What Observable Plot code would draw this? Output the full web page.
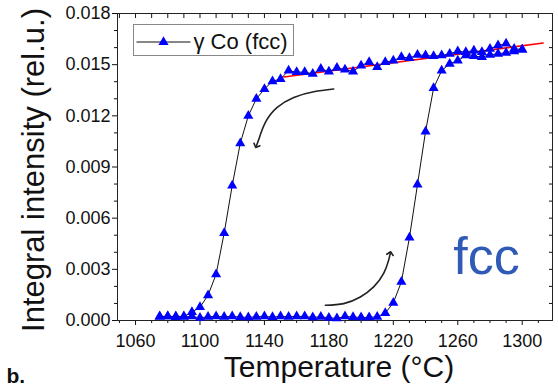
<!DOCTYPE html>
<html>
<head>
<meta charset="utf-8">
<script src="https://cdn.jsdelivr.net/npm/d3@7"></script>
<script src="https://cdn.jsdelivr.net/npm/@observablehq/plot@0.6"></script>
<style>
  html, body { margin: 0; padding: 0; background: #ffffff; }
  #chart svg { display: block; }
</style>
</head>
<body>
<div id="chart"></div>
<script>
// Heating branch (°C, integral intensity)
const heatT = [1075,1080,1085,1090,1095,1100,1105,1110,1115,1120,1125,1130,1135,1140,1145,1150,1155,1160,1165,1170,1175,1180,1185,1190,1195,1200,1205,1210,1215,1220,1225,1230,1235,1240,1245,1250,1255,1260,1265,1270,1275,1280,1285,1290,1295,1300];
const heatV = [0.00022,0.00024,0.00020,0.00022,0.00024,0.00015,0.00022,0.00024,0.00022,0.00024,0.00020,0.00018,0.00022,0.00024,0.00020,0.00024,0.00022,0.00024,0.00024,0.00018,0.00022,0.00016,0.00012,0.00024,0.00020,0.00018,0.00018,0.00022,0.00043,0.00104,0.00226,0.00486,0.00797,0.01108,0.01362,0.01465,0.01505,0.01524,0.01554,0.01550,0.01545,0.01558,0.01564,0.01570,0.01578,0.01589];

// Cooling branch
const coolT = [1300,1295,1290,1285,1280,1275,1270,1265,1260,1255,1250,1245,1240,1235,1230,1225,1220,1215,1210,1205,1200,1195,1190,1185,1180,1175,1170,1165,1160,1155,1150,1145,1140,1135,1130,1125,1120,1115,1110,1105,1100,1095,1090,1085,1080,1075];
const coolV = [0.01589,0.01593,0.01623,0.01613,0.01593,0.01574,0.01583,0.01574,0.01578,0.01564,0.01554,0.01550,0.01554,0.01558,0.01539,0.01545,0.01524,0.01515,0.01486,0.01515,0.01495,0.01460,0.01471,0.01481,0.01460,0.01475,0.01446,0.01456,0.01456,0.01465,0.01416,0.01403,0.01357,0.01300,0.01200,0.01039,0.00791,0.00512,0.00271,0.00148,0.00078,0.00049,0.00024,0.00024,0.00024,0.00024];

// Linear fit (red)
const fitT = [1152, 1313];
const fitV = [0.01428, 0.01627];

// Annotation arrows (data coordinates)
const arrowCoolT = [1183.0, 1170.6, 1158.2, 1147.9, 1140.6, 1136.5, 1135.0];
const arrowCoolV = [0.01357, 0.01341, 0.01308, 0.01249, 0.01161, 0.01062, 0.01023];
const arrowHeatT = [1177.8, 1189.2, 1199.5, 1207.8, 1214.0, 1217.1, 1218.1];
const arrowHeatV = [0.00089, 0.00099, 0.00138, 0.00197, 0.00276, 0.00354, 0.00394];

// Ticks
const xMajor = [1060, 1100, 1140, 1180, 1220, 1260, 1300];
const xMinor = [1050,1070,1080,1090,1110,1120,1130,1150,1160,1170,1190,1200,1210,1230,1240,1250,1270,1280,1290,1310];
const yMajor = [0, 0.003, 0.006, 0.009, 0.012, 0.015, 0.018];
const yMinor = [0.001,0.002,0.004,0.005,0.007,0.008,0.010,0.011,0.013,0.014,0.016,0.017];

const seriesName = "γ Co (fcc)";
const xTitle = "Temperature (°C)";
const yTitle = "Integral intensity (rel.u.)";
const phaseLabel = "fcc";
const panelLabel = "b.";

const heat = heatT.map((T, i) => ({T, v: heatV[i]}));
const cool = coolT.map((T, i) => ({T, v: coolV[i]}));
const fit = fitT.map((T, i) => ({T, v: fitV[i]}));
const arrowCool = arrowCoolT.map((T, i) => ({T, v: arrowCoolV[i]}));
const arrowHeat = arrowHeatT.map((T, i) => ({T, v: arrowHeatV[i]}));

const blue = "#0000ff";
const triR = 3.75;

const chart = Plot.plot({
  width: 558,
  height: 387,
  marginLeft: 117,
  marginRight: 6,
  marginTop: 13,
  marginBottom: 67,
  style: {fontFamily: "'Liberation Sans', Arial, sans-serif", background: "#ffffff", color: "#111"},
  x: {domain: [1048.8, 1318.8]},
  y: {domain: [0, 0.018]},
  marks: [
    // Axes
    Plot.axisX(xMajor, {anchor: "bottom", tickSize: 5, tickPadding: 9, fontSize: 18, tickFormat: d => String(d), label: null}),
    Plot.axisX(xMinor, {anchor: "bottom", tickSize: 3, tickFormat: () => "", label: null}),
    Plot.axisX(xMajor.concat(xMinor), {anchor: "top", tickSize: -4, tickFormat: () => "", label: null}),
    Plot.axisY(yMajor, {anchor: "left", tickSize: 5, tickPadding: 2, fontSize: 18, tickFormat: d3.format(".3f"), label: null}),
    Plot.axisY(yMinor, {anchor: "left", tickSize: 3, tickFormat: () => "", label: null}),
    Plot.axisY(yMajor.concat(yMinor), {anchor: "right", tickSize: -4, tickFormat: () => "", label: null}),
    Plot.frame({stroke: "#222", strokeWidth: 1}),

    // Fit line
    Plot.line(fit, {x: "T", y: "v", stroke: "#ff0000", strokeWidth: 1.6}),

    // Series lines + markers
    Plot.line(heat, {x: "T", y: "v", stroke: "#111", strokeWidth: 1}),
    Plot.line(cool, {x: "T", y: "v", stroke: "#111", strokeWidth: 1}),
    Plot.dot(heat, {x: "T", y: "v", symbol: "triangle", r: triR, fill: blue, stroke: "none"}),
    Plot.dot(cool, {x: "T", y: "v", symbol: "triangle", r: triR, fill: blue, stroke: "none"}),

    // Arrows
    Plot.line(arrowCool, {x: "T", y: "v", curve: "natural", stroke: "#222", strokeWidth: 1.6, markerEnd: "arrow"}),
    Plot.line(arrowHeat, {x: "T", y: "v", curve: "natural", stroke: "#222", strokeWidth: 1.6, markerEnd: "arrow"}),

    // Legend
    Plot.frame({insetLeft: 16, insetTop: 11, insetRight: 259, insetBottom: 265, stroke: "#888", fill: "#fff", strokeWidth: 1}),
    Plot.frame({insetLeft: 19, insetTop: 28, insetRight: 362, insetBottom: 278, stroke: "none", fill: "#111"}),
    Plot.dot([seriesName], {frameAnchor: "top-left", dx: 46, dy: 28.5, symbol: "triangle", r: triR, fill: blue, stroke: "none"}),
    Plot.text([seriesName], {frameAnchor: "top-left", textAnchor: "start", lineAnchor: "middle", dx: 76, dy: 28, fontSize: 22, fill: "#111"}),

    // Texts
    Plot.text([phaseLabel], {frameAnchor: "bottom-right", textAnchor: "middle", lineAnchor: "middle", dx: -66, dy: -63, fontSize: 52, fill: "#2f5bb7"}),
    Plot.text([xTitle], {frameAnchor: "bottom", textAnchor: "middle", lineAnchor: "middle", dx: 4, dy: 47, fontSize: 30, fill: "#111"}),
    Plot.text([yTitle], {frameAnchor: "left", textAnchor: "middle", lineAnchor: "middle", rotate: -90, dx: -83, dy: 3, fontSize: 31, fill: "#111"}),
    Plot.text([panelLabel], {frameAnchor: "bottom-left", textAnchor: "start", lineAnchor: "middle", dx: -111, dy: 56, fontSize: 21, fontWeight: "bold", fill: "#111"})
  ]
});
document.getElementById("chart").appendChild(chart);
</script>
</body>
</html>
